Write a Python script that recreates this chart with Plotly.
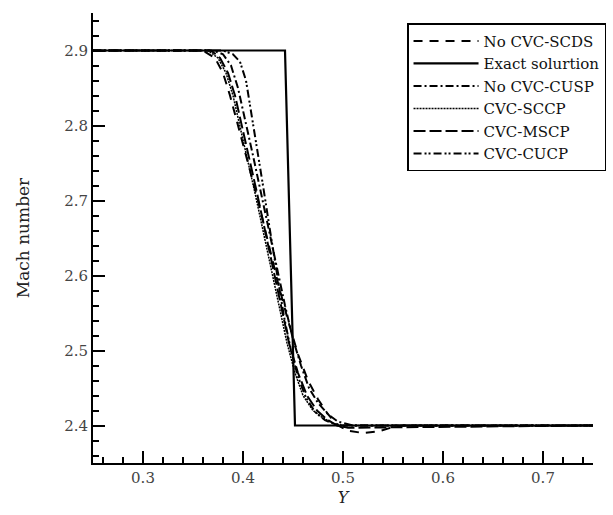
import plotly.graph_objects as go

# ---- data ----
exact_x = [0.25, 0.442, 0.452, 0.75]
exact_y = [2.9, 2.9, 2.4, 2.4]

scds_x = [0.25, 0.36, 0.372, 0.38, 0.387, 0.395, 0.405, 0.415, 0.425, 0.435, 0.445, 0.455, 0.465,
          0.475, 0.485, 0.495, 0.505, 0.52, 0.535, 0.55, 0.56, 0.75]
scds_y = [2.9, 2.9, 2.89, 2.87, 2.84, 2.80, 2.75, 2.70, 2.645, 2.59, 2.54, 2.495, 2.46,
          2.435, 2.415, 2.40, 2.393, 2.39, 2.392, 2.398, 2.40, 2.40]

cusp_x = [0.25, 0.37, 0.38, 0.388, 0.395, 0.402, 0.41, 0.418, 0.426, 0.434, 0.442, 0.45, 0.458,
          0.466, 0.475, 0.485, 0.495, 0.51, 0.75]
cusp_y = [2.9, 2.9, 2.895, 2.88, 2.85, 2.81, 2.76, 2.71, 2.66, 2.61, 2.56, 2.515, 2.48,
          2.45, 2.43, 2.415, 2.405, 2.40, 2.40]

sccp_x = [0.25, 0.365, 0.375, 0.383, 0.39, 0.397, 0.404, 0.412, 0.42, 0.428, 0.436, 0.444, 0.452,
          0.46, 0.47, 0.48, 0.49, 0.50, 0.75]
sccp_y = [2.9, 2.9, 2.89, 2.87, 2.84, 2.80, 2.76, 2.71, 2.66, 2.61, 2.56, 2.51, 2.47,
          2.44, 2.42, 2.41, 2.403, 2.40, 2.40]

mscp_x = [0.25, 0.368, 0.377, 0.385, 0.392, 0.399, 0.406, 0.414, 0.422, 0.43, 0.438, 0.446, 0.455,
          0.464, 0.474, 0.484, 0.494, 0.505, 0.75]
mscp_y = [2.9, 2.9, 2.89, 2.87, 2.84, 2.80, 2.76, 2.71, 2.66, 2.61, 2.56, 2.51, 2.47,
          2.44, 2.42, 2.408, 2.40, 2.397, 2.40]

cucp_x = [0.25, 0.38, 0.39, 0.397, 0.403, 0.408, 0.414, 0.42, 0.427, 0.434, 0.441, 0.448, 0.455,
          0.463, 0.472, 0.482, 0.495, 0.75]
cucp_y = [2.9, 2.9, 2.895, 2.885, 2.86, 2.82, 2.77, 2.72, 2.66, 2.60, 2.545, 2.50, 2.465,
          2.437, 2.418, 2.407, 2.40, 2.40]

x_ticks = [0.3, 0.4, 0.5, 0.6, 0.7]
y_ticks = [2.4, 2.5, 2.6, 2.7, 2.8, 2.9]

series = [
    ("No CVC-SCDS", scds_x, scds_y, "9px,7px", 2),
    ("Exact solurtion", exact_x, exact_y, "solid", 2.2),
    ("No CVC-CUSP", cusp_x, cusp_y, "8px,3px,2px,3px", 2),
    ("CVC-SCCP", sccp_x, sccp_y, "2px,1px", 1.5),
    ("CVC-MSCP", mscp_x, mscp_y, "12px,4px", 2),
    ("CVC-CUCP", cucp_x, cucp_y, "8px,3px,2px,2px,2px,3px", 2),
]

FONT = "DejaVu Serif"

fig = go.Figure()
for name, xs, ys, dash, w in series:
    fig.add_trace(go.Scatter(x=xs, y=ys, mode="lines", name=name,
                             line=dict(color="black", width=w, dash=dash)))

axis_common = dict(
    showline=True, linecolor="black", linewidth=2, mirror=False,
    showgrid=False, zeroline=False, automargin=False,
    ticks="inside", ticklen=12, tickwidth=2, tickcolor="black",
    tickfont=dict(family=FONT, size=15, color="#444"),
)

fig.update_xaxes(range=[0.25, 0.75], tickvals=x_ticks,
                 ticktext=[f"{v:.1f}" for v in x_ticks],
                 minor=dict(dtick=0.02, ticks="inside", ticklen=6, tickwidth=1.5, tickcolor="black", tick0=0.3),
                 title=dict(text="<i>Y</i>", font=dict(family=FONT, size=16, color="#222"), standoff=6),
                 **axis_common)
fig.update_yaxes(range=[2.35, 2.95], tickvals=y_ticks,
                 ticktext=[f"{v:.1f}" for v in y_ticks],
                 minor=dict(dtick=0.02, ticks="inside", ticklen=6, tickwidth=1.5, tickcolor="black", tick0=2.4),
                 title=dict(text="Mach number", font=dict(family=FONT, size=17, color="#222"), standoff=30),
                 **axis_common)

fig.update_layout(
    width=613, height=515,
    margin=dict(l=93, r=20, t=13, b=52, autoexpand=False),
    paper_bgcolor="white", plot_bgcolor="white",
    showlegend=True,
    legend=dict(xref="container", yref="container", x=0.664, y=0.955,
                xanchor="left", yanchor="top",
                bgcolor="white", bordercolor="black", borderwidth=1.5,
                font=dict(family=FONT, size=15, color="#111"),
                tracegroupgap=0, itemwidth=65),
)

fig.write_html("out.html")
